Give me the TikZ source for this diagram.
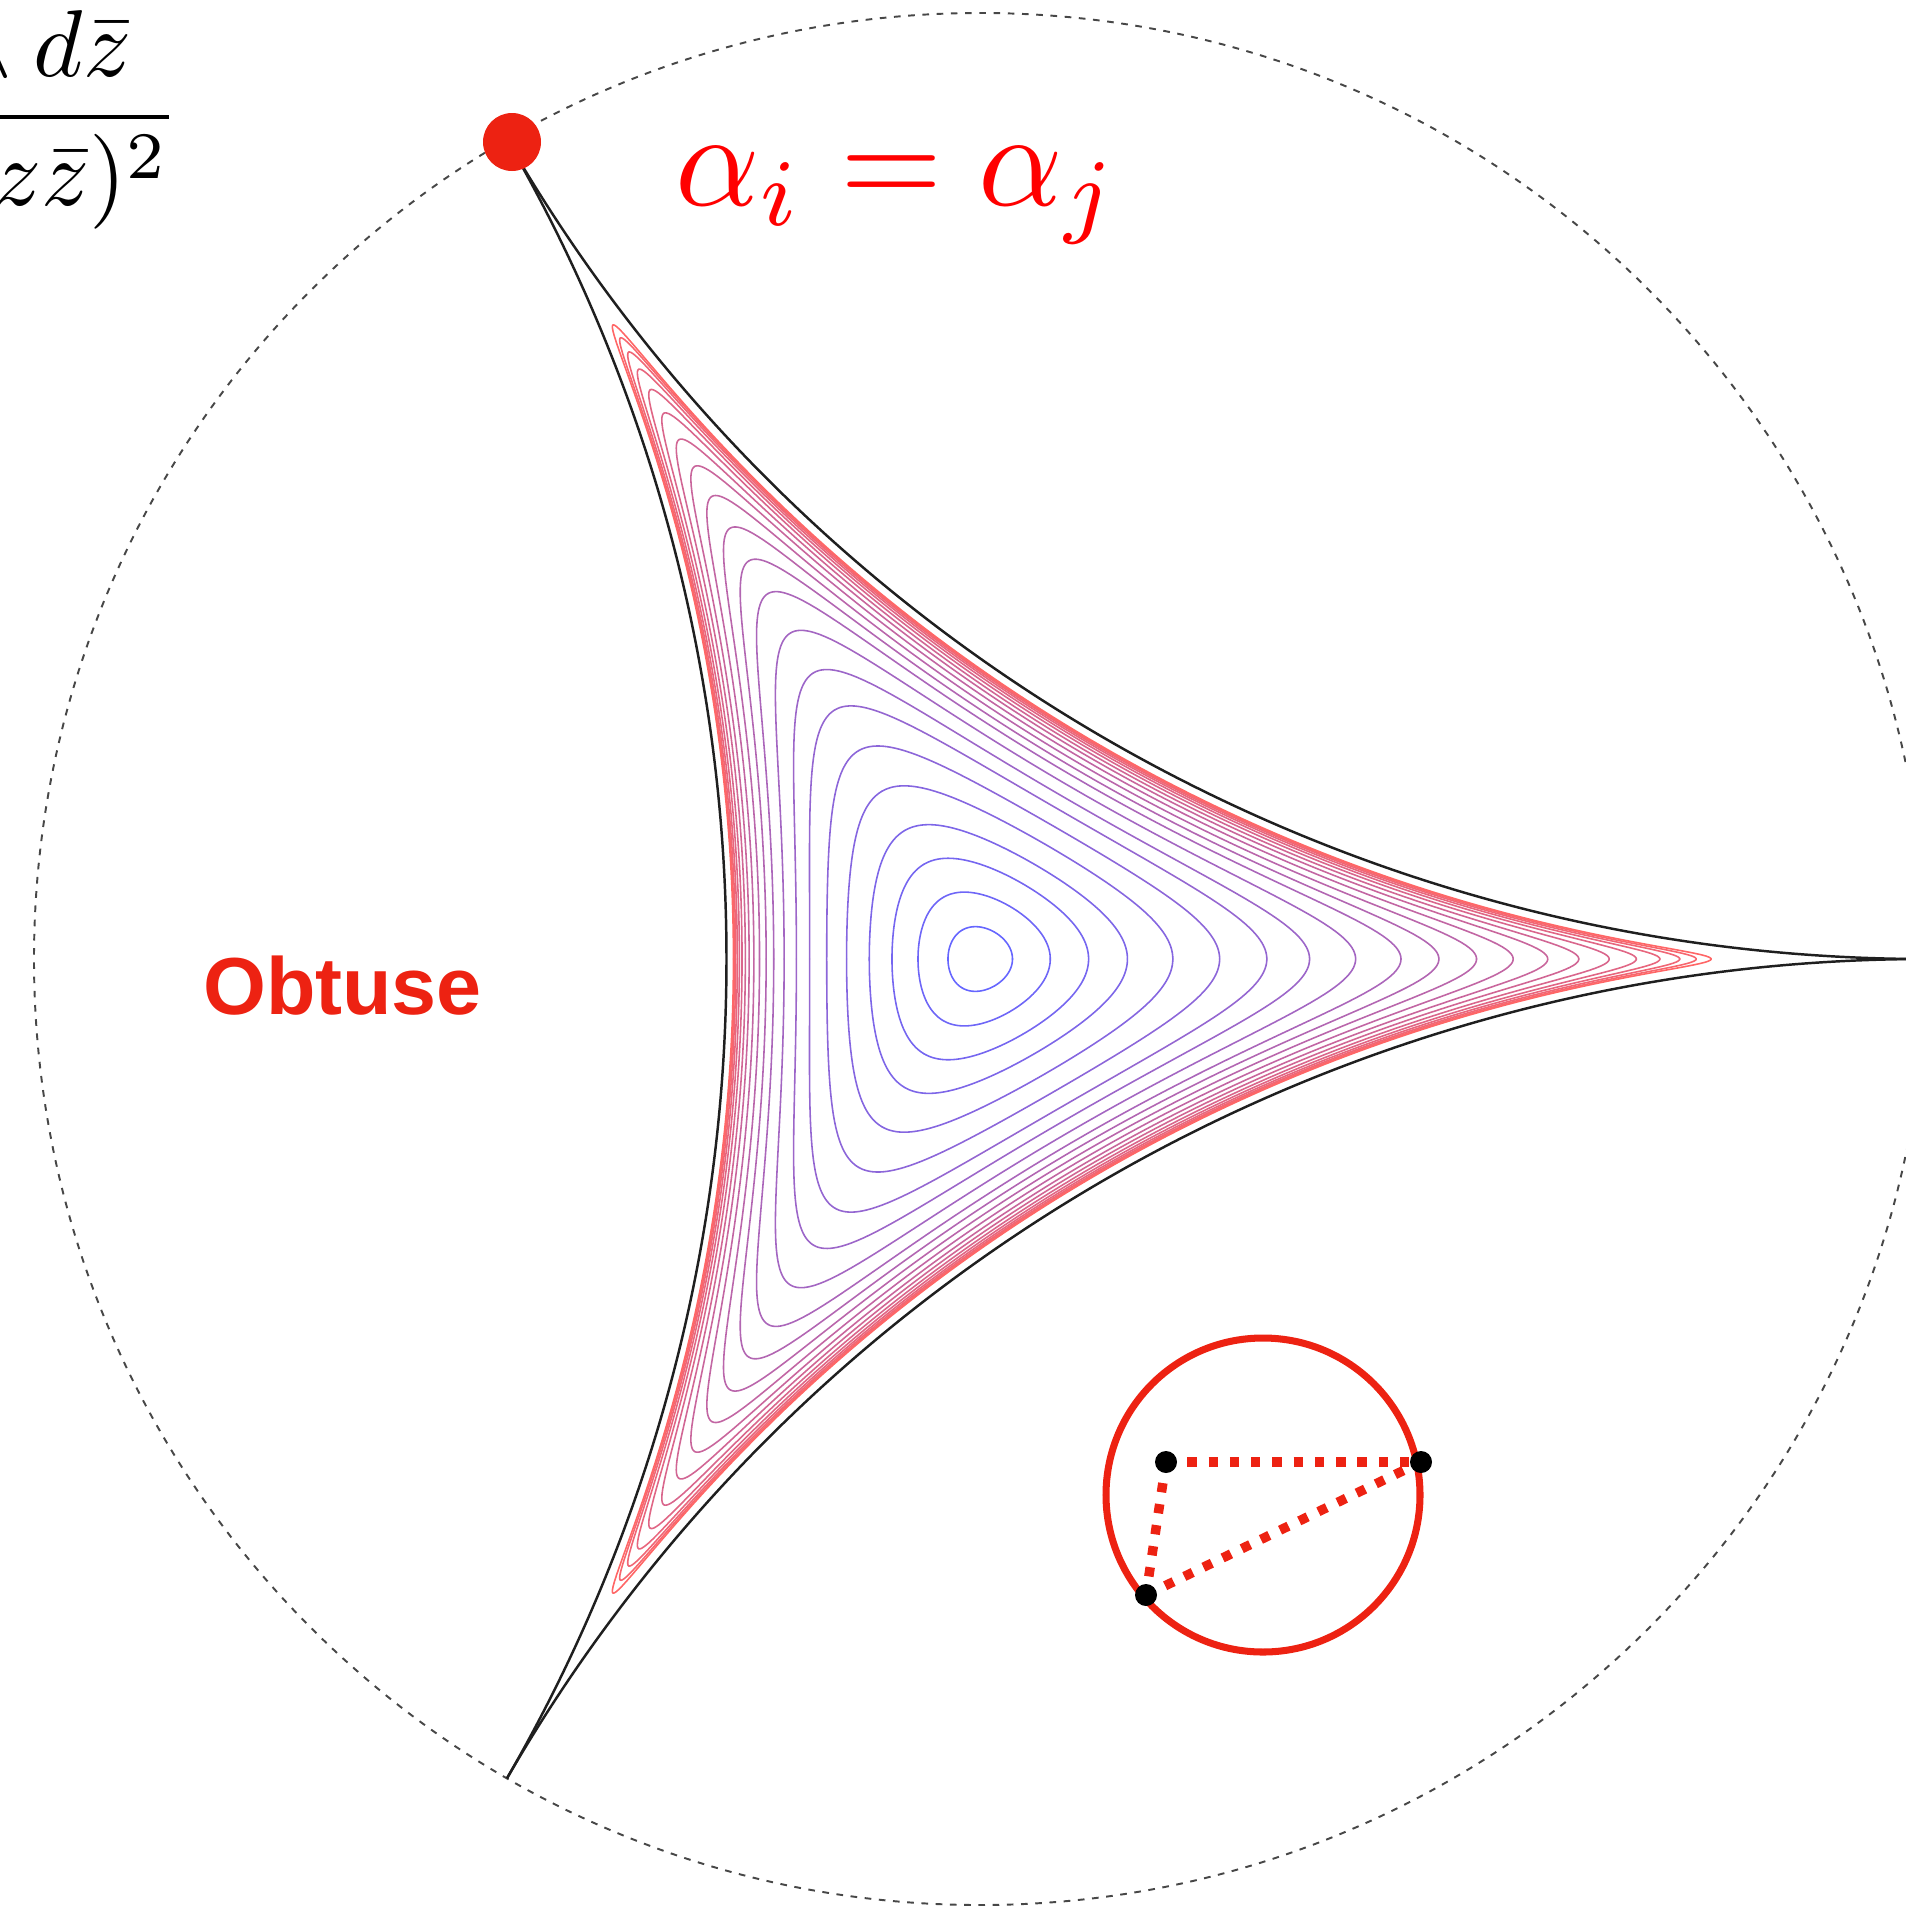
\documentclass[tikz,border=0pt]{standalone}
\usepackage{fontspec}
\usepackage{graphicx}
\usepackage{xfp}
\newfontfamily\obfont{Liberation Sans}
\definecolor{obred}{RGB}{237,34,18}
\makeatletter
\newcount\ctrIter
% level sets of G = B1*B2*B3/(1-rho^2)^(6/5) in Klein coordinates
\def\ctrBisect{%
  \edef\ctrMid{\fpeval{(\ctrLo+\ctrHi)/2}}%
  \edef\ctrP{\fpeval{max((1-(\ctrCa)*\ctrMid)*(1+(\ctrCb)*\ctrMid)*(1-(\ctrCc)*\ctrMid),0)}}%
  \edef\ctrQ{\fpeval{1-\ctrMid*\ctrMid}}%
  \ifnum\fpeval{\ctrP*\ctrP*\ctrP*\ctrP*\ctrP > \ctrKv*\ctrQ*\ctrQ*\ctrQ*\ctrQ*\ctrQ*\ctrQ}=1\relax
    \let\ctrLo\ctrMid \else \let\ctrHi\ctrMid \fi
  \global\advance\ctrIter by 1\relax
  \ifnum\ctrIter<17 \expandafter\ctrBisect\fi}
\newcommand\ctrSolve[1]{%
  \edef\ctrCa{\fpeval{2*cosd(60-#1)}}%
  \edef\ctrCb{\fpeval{2*cosd(#1)}}%
  \edef\ctrCc{\fpeval{2*cosd(60+#1)}}%
  \def\ctrLo{0}%
  \edef\ctrHi{\fpeval{1/\ctrCa}}%
  \global\ctrIter=0\relax
  \ctrBisect
  \edef\ctrRho{\fpeval{(\ctrLo+\ctrHi)/2}}}
\newcommand\ctrBuild[1]{%
  \edef\ctrRs{\fpeval{2*#1/(1+#1*#1)}}%
  \edef\ctrKv{\fpeval{(1-2*\ctrRs)^5*(1+\ctrRs)^10/(1-\ctrRs*\ctrRs)^6}}%
  \global\let\ctrPath\@empty
  \foreach \j in {0,...,50}{%
    \edef\ctrPhi{\fpeval{round(60*(\j/50)^3,5)}}%
    \ctrSolve{\ctrPhi}%
    \edef\ctrR{\fpeval{round(946*\ctrRho/(1+sqrt(1-\ctrRho*\ctrRho)),3)}}%
    \ifnum\j=0 \xdef\ctrPath{(\ctrPhi:\ctrR)}\else\xdef\ctrPath{\ctrPath -- (\ctrPhi:\ctrR)}\fi
  }}
\makeatother
\tikzset{
  disk/.style={draw=black!72, line width=0.55pt, dash pattern=on 1.9pt off 2.15pt},
  geo/.style={draw=black!88, line width=0.7pt},
  ctrline/.style={line width=0.45pt, line join=round, line cap=round},
  dotline/.style={draw=obred, line width=2.7pt, dash pattern=on 2.65pt off 3.4pt},
  blackdot/.style={fill=black},
}
\begin{document}
\begin{tikzpicture}[x=0.01cm, y=-0.01cm]
\useasboundingbox (0,0) rectangle (1906,1909);
% disk boundary
\draw[disk] (980,959) circle[radius=946];
% contours
\foreach \rs [count=\k] in {0.0328,0.0645,0.092,0.116,0.140,0.161,0.179,0.193,0.206,0.217,0.225,0.232,0.238,0.243,0.247,0.2505,0.2533,0.2555,0.2572,0.2585,0.2596}{
  \ctrBuild{\rs}
  \pgfmathsetmacro\tcol{100*(\k-1)/20}
  \colorlet{ctrc}{red!\tcol!blue}
  \begin{scope}[shift={(979,959)}]
    \foreach \a in {0,120,240}{
      \draw[ctrline, draw=ctrc!60!white, rotate=\a] \ctrPath;
      \draw[ctrline, draw=ctrc!60!white, rotate=\a, yscale=-1] \ctrPath;
    }
  \end{scope}
}
% ideal triangle
\coordinate (V0) at (1926,959);
\coordinate (V1) at (507,1778.25);
\coordinate (V2) at (507,139.75);
\draw[geo] (V2) arc[start angle=-30, end angle=30, radius=1638.5];
\draw[geo] (V2) arc[start angle=150, end angle=90, radius=1638.5];
\draw[geo] (V1) arc[start angle=210, end angle=270, radius=1638.5];
% red dot at vertex
\fill[obred] (512,142) circle[radius=29];
% labels
\node[text=red, anchor=base, inner sep=0] (lab) at (897,205) {\scalebox{3.74}[3.86]{$\alpha_i=\alpha_j$}};
\node[text=obred, anchor=base, inner sep=0, font={\obfont\bfseries\fontsize{23}{28}\selectfont}] (obt) at (342.5,1014) {Obtuse};
\node[anchor=base east, inner sep=0] (form) at (181.5,140.7) {\scalebox{2.7}{$\displaystyle\frac{dz\wedge d\bar z}{(1-z\bar z)^2}$}};
% small circle with triangle
\coordinate (sc) at (1263,1495);
\draw[draw=obred, line width=2pt] (sc) circle[radius=157];
\coordinate (A) at (1166,1462);
\coordinate (B) at (1421,1462);
\coordinate (C) at (1146,1595);
\draw[dotline] (A) -- (B);
\draw[dotline] (A) -- (C);
\draw[dotline] (C) -- (B);
\fill[blackdot] (A) circle[radius=11];
\fill[blackdot] (B) circle[radius=11];
\fill[blackdot] (C) circle[radius=11];
\end{tikzpicture}
\end{document}
